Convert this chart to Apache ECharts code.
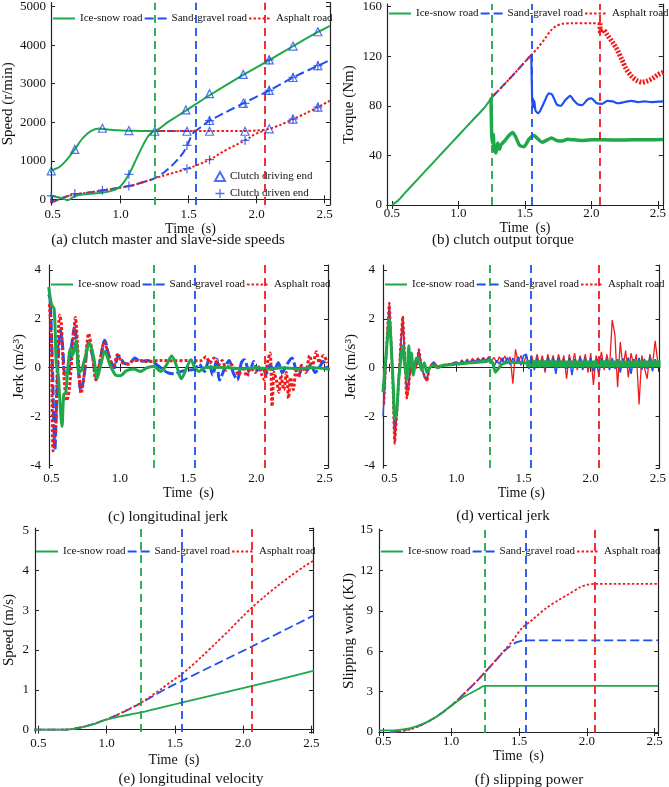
<!DOCTYPE html>
<html>
<head>
<meta charset="utf-8">
<script src="https://cdn.jsdelivr.net/npm/echarts@6/dist/echarts.min.js"></script>
<style>
  html, body { margin: 0; padding: 0; background: #fff; }
  #chart { width: 669px; height: 787px; }
</style>
</head>
<body>
<div id="chart"></div>
<script>
const GREEN = '#1fa84a';
const BLUE = '#1f4ff0';
const RED = '#f01c1c';
const FONT = '"Liberation Serif", "Times New Roman", serif';
const DASH = [9, 4];
const DOT = [2.5, 2];

const roadNames = ['Ice-snow road', 'Sand-gravel road', 'Asphalt road'];
const roadColors = [GREEN, BLUE, RED];
const markerNames = ['Clutch driving end', 'Clutch driven end'];
// moment each road finishes slipping (vertical dashed lines)
const switchTimes = [1.245, 1.55, 2.065];
const captions = [
  '(a) clutch master and slave-side speeds',
  '(b) clutch output torque',
  '(c) longitudinal jerk',
  '(d) vertical jerk',
  '(e) longitudinal velocity',
  '(f) slipping power'
];

// (a) clutch speeds, r/min
const speedIceDrive = [[0.47,700],[0.5,760],[0.55,840],[0.6,1010],[0.663,1295],[0.72,1580],[0.78,1770],[0.84,1840],[0.9,1815],[0.98,1790],[1.061,1780],[1.15,1775],[1.245,1772],[1.35,2010],[1.48,2300],[1.654,2700],[1.902,3230],[2.093,3610],[2.268,3970],[2.451,4340],[2.54,4500]];
const speedSandDrive = [[1.245,1772],[1.4,1772],[1.54,1772],[1.6,1900],[1.654,2040],[1.902,2490],[2.093,2825],[2.268,3160],[2.451,3465],[2.54,3610]];
const speedAsphDrive = [[1.245,1772],[1.6,1772],[1.9,1775],[2.0,1785],[2.093,1830],[2.18,1940],[2.268,2080],[2.36,2230],[2.451,2390],[2.54,2560]];
const speedIceDriven = [[0.47,110],[0.52,70],[0.57,30],[0.61,-20],[0.66,80],[0.72,130],[0.8,150],[0.88,185],[0.95,240],[1.0,340],[1.061,650],[1.1,930],[1.146,1270],[1.195,1600],[1.23,1740],[1.245,1772]];
const speedSandDriven = [[0.47,-60],[0.52,-40],[0.58,50],[0.663,130],[0.75,170],[0.866,230],[0.95,280],[1.061,345],[1.15,430],[1.245,540],[1.3,650],[1.35,790],[1.4,960],[1.45,1160],[1.49,1400],[1.52,1640],[1.545,1772]];
const speedAsphDriven = [[0.47,-60],[0.52,-40],[0.58,50],[0.663,130],[0.75,170],[0.866,230],[0.95,280],[1.061,345],[1.15,430],[1.245,540],[1.35,650],[1.488,795],[1.57,900],[1.654,1030],[1.78,1290],[1.915,1530],[2.0,1710],[2.065,1790]];
const drivingMarks = [[0.49,740],[0.663,1295],[0.866,1844],[1.061,1784],[1.251,1767],[1.48,2320],[1.654,2740],[1.902,3240],[2.093,3615],[2.268,3975],[2.451,4345],[1.488,1767],[1.654,2045],[1.902,2490],[2.093,2825],[2.268,3160],[2.451,3465],[1.654,1767],[1.915,1767],[2.093,1830],[2.268,2080],[2.451,2390]];
const drivenMarks = [[0.49,90],[0.663,150],[0.866,240],[1.061,650],[1.061,345],[1.488,1398],[1.488,795],[1.654,2040],[1.654,1030],[1.915,1530],[1.915,2490],[2.268,2080],[2.268,3160],[2.451,3465],[2.451,2390],[2.093,3615],[2.093,2825]];

// (b) clutch output torque, Nm
const torqueIceRamp = [[0.5,0],[0.55,4],[0.6,10],[0.7,21.5],[0.8,33],[0.9,44.5],[1.0,56],[1.1,67.5],[1.2,79],[1.245,86]];
const torqueIceAfter = [[1.245,86],[1.25,58],[1.255,50],[1.262,57],[1.27,44],[1.283,42],[1.295,50],[1.31,45],[1.32,48.5],[1.35,52],[1.38,56],[1.407,58.5],[1.43,55],[1.46,48],[1.494,47],[1.53,53],[1.568,56],[1.6,53],[1.63,50.5],[1.668,52.5],[1.7,54],[1.74,52],[1.78,51.5],[1.82,53],[1.87,52.5],[1.92,52],[2.0,52.5],[2.1,52.5],[2.2,52.3],[2.3,52.5],[2.4,52.6],[2.54,52.8]];
const torqueSandRamp = [[1.245,86],[1.4,103.5],[1.548,121]];
const torqueSandAfter = [[1.548,121],[1.552,98],[1.556,78],[1.56,86],[1.565,79],[1.57,84],[1.58,76],[1.6,74],[1.62,77],[1.65,84],[1.68,90],[1.705,89],[1.74,81],[1.77,80],[1.8,84],[1.84,88],[1.87,84],[1.9,81],[1.93,80.5],[1.97,85],[2.0,86],[2.04,82],[2.08,81.5],[2.12,84],[2.16,83.5],[2.2,82],[2.25,83],[2.3,84],[2.35,83],[2.4,83.5],[2.45,83],[2.54,83.5]];
const torqueAsphRamp = [[1.245,86],[1.4,103.5],[1.548,121],[1.6,127],[1.65,134],[1.69,140],[1.73,144],[1.78,146],[1.85,146.5],[2.0,146.5],[2.065,146.5]];
const torqueAsphAfter = [[2.065,146.5],[2.07,139],[2.09,141],[2.12,137],[2.16,131],[2.19,126],[2.23,117],[2.26,110],[2.3,104],[2.34,100.5],[2.38,99],[2.42,100],[2.46,102],[2.5,105],[2.54,107]];

// (c) longitudinal jerk, m/s^3
const jerkLongIce = [[0.48,3.3],[0.5,2.6],[0.52,2.4],[0.535,0.2],[0.55,-0.3],[0.562,-1.4],[0.577,-2.4],[0.59,-1.1],[0.605,-1.0],[0.62,0.0],[0.64,0.8],[0.655,0.5],[0.68,1.1],[0.7,-0.2],[0.72,-0.1],[0.75,0.5],[0.78,1.0],[0.81,0.4],[0.835,-0.42],[0.86,0.1],[0.89,0.67],[0.93,0.1],[0.97,-0.3],[1.0,-0.33],[1.05,-0.12],[1.1,-0.05],[1.15,-0.15],[1.2,0.0],[1.25,0.05],[1.3,-0.15],[1.34,0.1],[1.38,0.48],[1.42,0.0],[1.45,-0.45],[1.49,0.0],[1.52,0.33],[1.55,0.0],[1.58,-0.15],[1.62,0.0],[1.7,0.02],[1.8,0.0],[1.9,-0.05],[2.0,0.0],[2.1,-0.05],[2.2,0.0],[2.3,-0.05],[2.4,0.0],[2.54,-0.05]];
const jerkLongSand = [[0.48,3.0],[0.49,2.8],[0.505,0.5],[0.525,-3.35],[0.54,-1.0],[0.555,1.0],[0.565,1.55],[0.58,1.0],[0.6,-0.3],[0.62,-0.3],[0.645,0.8],[0.67,1.7],[0.69,0.5],[0.715,-0.95],[0.74,-0.3],[0.77,1.0],[0.8,0.5],[0.83,-0.45],[0.86,0.4],[0.89,1.12],[0.92,0.5],[0.96,0.0],[0.99,0.5],[1.03,0.2],[1.07,0.15],[1.11,0.4],[1.15,0.25],[1.2,0.3],[1.25,0.2],[1.3,0.0],[1.35,-0.2],[1.4,-0.25],[1.45,-0.15],[1.5,-0.1],[1.55,-0.05],[1.58,0.15],[1.62,-0.15],[1.65,0.3],[1.68,-0.3],[1.71,0.35],[1.73,-0.5],[1.77,0.0],[1.8,0.3],[1.83,-0.2],[1.86,-0.5],[1.89,0.2],[1.91,0.33],[1.95,-0.2],[1.98,0.25],[2.01,-0.1],[2.04,0.05],[2.07,-0.25],[2.1,0.1],[2.13,-0.1],[2.16,0.2],[2.19,-0.2],[2.22,0.1],[2.26,0.4],[2.29,-0.1],[2.31,-0.3],[2.34,0.05],[2.37,-0.1],[2.4,0.15],[2.43,-0.2],[2.46,0.0],[2.49,0.25],[2.52,-0.1]];
const jerkLongAsph = [[0.485,2.6],[0.5,1.0],[0.512,-3.4],[0.53,-2.5],[0.545,0.5],[0.56,2.15],[0.572,1.8],[0.585,0.2],[0.612,-1.35],[0.63,-0.9],[0.655,0.8],[0.676,2.05],[0.69,1.0],[0.717,-1.05],[0.735,-0.5],[0.76,1.0],[0.772,1.4],[0.8,0.5],[0.825,-0.5],[0.86,0.4],[0.886,1.05],[0.92,0.5],[0.955,0.0],[0.982,0.53],[1.02,0.2],[1.06,0.15],[1.1,0.3],[1.15,0.3],[1.2,0.25],[1.3,0.3],[1.4,0.28],[1.5,0.3],[1.55,0.28],[1.6,0.3],[1.63,0.45],[1.66,0.2],[1.69,0.4],[1.72,0.1],[1.75,0.3],[1.78,-0.1],[1.81,0.15],[1.84,0.0],[1.87,-0.3],[1.9,0.05],[1.93,-0.35],[1.96,0.0],[1.99,-0.2],[2.02,0.05],[2.04,-0.3],[2.06,-0.5],[2.08,0.2],[2.1,0.6],[2.115,-1.58],[2.13,-0.2],[2.15,-0.6],[2.165,-1.0],[2.18,-0.3],[2.2,-0.9],[2.22,-0.2],[2.235,-1.25],[2.25,-0.4],[2.27,-0.9],[2.29,-0.1],[2.31,-0.4],[2.33,0.1],[2.36,-0.2],[2.39,0.5],[2.41,0.1],[2.44,0.65],[2.46,0.2],[2.49,0.5],[2.52,0.2]];

// (d) vertical jerk, m/s^3: transient part, then the noisy steady band
const vjIceEarly = [[0.453,-1.0],[0.48,0.8],[0.5,2.0],[0.515,0.8],[0.53,-0.8],[0.54,-2.1],[0.555,-1.8],[0.57,-0.5],[0.585,0.3],[0.6,0.9],[0.615,0.1],[0.63,-0.5],[0.645,0.9],[0.655,0.0],[0.665,0.6],[0.68,-0.3],[0.7,0.4],[0.72,0.3],[0.74,-0.1],[0.76,0.2],[0.78,-0.2],[0.8,0.0],[0.83,0.1],[0.86,0.0],[0.9,0.1],[0.95,0.12],[1.0,0.15],[1.1,0.2],[1.2,0.24],[1.25,0.3],[1.27,0.2],[1.29,-0.18],[1.31,-0.05],[1.34,0.15],[1.4,0.22],[1.5,0.2],[1.53,0.18]];
const vjIceBand = [[1.52,0.17],[1.7,0.16],[1.9,0.15],[2.1,0.16],[2.3,0.15],[2.52,0.16]];
const vjSandEarly = [[0.453,-2.0],[0.485,1.0],[0.5,2.5],[0.515,1.2],[0.53,-1.0],[0.54,-2.7],[0.555,-1.8],[0.57,-0.3],[0.6,2.0],[0.615,0.4],[0.63,-0.9],[0.645,-0.5],[0.66,0.1],[0.68,0.0],[0.7,0.1],[0.72,0.7],[0.74,0.1],[0.76,-0.4],[0.78,-0.4],[0.8,0.0],[0.83,0.25],[0.86,0.0],[0.9,0.1],[0.95,0.15]];
const vjAsphEarly = [[0.46,-1.5],[0.485,1.5],[0.5,2.65],[0.51,1.5],[0.525,-0.5],[0.54,-3.1],[0.555,-2.0],[0.57,-0.5],[0.585,1.0],[0.6,2.1],[0.615,0.5],[0.63,-1.25],[0.645,-0.8],[0.66,0.2],[0.675,-0.3],[0.69,0.3],[0.7,0.0],[0.72,0.75],[0.74,0.0],[0.76,-0.3],[0.78,-0.55],[0.8,0.0],[0.83,0.2],[0.86,0.05],[0.9,0.1],[0.95,0.15]];
// noisy band, one reading every 0.02 s from 1.00 s to 2.50 s
const vjNoiseStart = 1.0;
const vjNoiseStep = 0.02;
const vjSandNoise = [0.20,0.12,0.28,0.15,0.30,0.18,0.32,0.20,0.35,0.22,0.38,0.20,0.42,0.25,0.05,0.30,0.15,0.40,0.18,0.42,0.12,0.40,0.15,0.45,0.10,0.50,0.55,-0.05,0.35,-0.10,0.40,0.00,0.35,-0.05,0.42,0.05,0.38,-0.25,0.40,0.00,0.35,-0.05,0.40,-0.30,0.35,0.00,0.42,-0.10,0.38,0.00,0.40,-0.15,0.35,-0.30,0.40,0.00,0.36,-0.10,0.40,-0.05,0.35,-0.20,0.38,0.00,0.42,-0.25,0.35,0.00,0.40,-0.10,0.36,-0.05,0.40,-0.15,0.35,0.00];
const vjAsphNoise = [0.25,0.15,0.32,0.20,0.35,0.22,0.38,0.25,0.40,0.28,0.42,0.30,0.45,0.28,0.42,0.20,0.45,0.25,0.48,0.20,0.45,-0.65,0.75,0.20,0.50,0.15,0.55,0.10,0.50,0.05,0.55,0.10,0.50,-0.20,0.55,0.10,0.50,0.00,0.55,0.10,0.50,-0.45,0.55,0.05,0.60,-0.10,0.50,0.10,0.55,-0.20,0.60,-0.70,0.50,0.10,0.65,-0.10,0.55,0.00,1.95,1.35,-0.80,1.05,0.00,0.70,-0.40,0.60,0.10,0.55,-1.50,0.50,0.00,-0.45,0.55,0.10,1.10,0.20];

// (e) longitudinal velocity, m/s
const velIce = [[0.47,0],[0.6,0],[0.7,0],[0.75,0.01],[0.8,0.04],[0.85,0.08],[0.9,0.13],[0.95,0.19],[1.0,0.25],[1.1,0.33],[1.25,0.43],[1.55,0.68],[2.06,1.09],[2.52,1.48]];
const velSand = [[0.47,0],[0.7,0],[0.8,0.05],[0.9,0.14],[1.0,0.26],[1.1,0.4],[1.2,0.57],[1.25,0.66],[1.35,0.86],[1.45,1.05],[1.55,1.22],[2.06,2.08],[2.52,2.87]];
const velAsph = [[0.47,0],[0.7,0],[0.8,0.05],[0.9,0.14],[1.0,0.26],[1.1,0.41],[1.2,0.58],[1.25,0.67],[1.3,0.78],[1.4,1.02],[1.5,1.27],[1.55,1.39],[1.6,1.53],[1.7,1.84],[1.8,2.17],[1.9,2.5],[2.0,2.85],[2.06,3.05],[2.15,3.32],[2.25,3.6],[2.35,3.86],[2.45,4.1],[2.52,4.25]];

// (f) slipping work, kJ
const workIce = [[0.47,0.1],[0.5,0.12],[0.6,0.15],[0.7,0.3],[0.8,0.65],[0.9,1.2],[1.0,1.95],[1.1,2.65],[1.2,3.2],[1.245,3.42],[2.524,3.42]];
const workSand = [[0.55,0],[0.6,0.02],[0.7,0.25],[0.8,0.62],[0.9,1.2],[1.0,1.95],[1.1,2.9],[1.2,3.9],[1.25,4.45],[1.3,5.0],[1.395,6.05],[1.44,6.4],[1.48,6.65],[1.54,6.8],[2.524,6.8]];
const workAsph = [[0.58,0],[0.7,0.2],[0.8,0.6],[0.9,1.2],[1.0,1.95],[1.1,2.9],[1.2,3.9],[1.25,4.45],[1.3,5.0],[1.395,6.1],[1.45,6.75],[1.52,7.7],[1.6,8.35],[1.7,9.2],[1.8,9.85],[1.86,10.2],[1.95,10.75],[2.0,10.93],[2.065,11.0],[2.524,11.0]];

function onGrid(vals, t0, dt) {
  return vals.map((v, i) => [Math.round((t0 + i * dt) * 1000) / 1000, v]);
}

// panel layout: plot boxes, axis extents, label offsets
const panels = [
  { grid: { left: 50, top: 1, width: 280, height: 204 }, x: [0.488, 2.54],
    y: { min: -145, max: 5100, splitNumber: 5 }, yName: 'Speed (r/min)', yGap: 35, yMargin: 5,
    xName: 'Time  (s)', xMargin: 3, xGap: 16, legend: [52, 13] },
  { grid: { left: 387, top: 1, width: 278, height: 204 }, x: [0.463, 2.537],
    y: { min: 0, max: 162, interval: 40 }, yMinLabel: true, yName: 'Torque (Nm)', yGap: 30, yMargin: 5,
    xName: 'Time  (s)', xMargin: 2, xGap: 16, legend: [388, 8] },
  { grid: { left: 49, top: 265, width: 279, height: 203 }, x: [0.482, 2.524],
    y: { min: -4.1, max: 4.2, splitNumber: 4 }, yName: 'Jerk (m/s³)', yGap: 22, yMargin: 8,
    xName: 'Time  (s)', xMargin: 4, xGap: 18, legend: [50, 279] },
  { grid: { left: 383, top: 265, width: 277, height: 203 }, x: [0.453, 2.513],
    y: { min: -4.1, max: 4.2, splitNumber: 4 }, yName: 'Jerk (m/s³)', yGap: 24, yMargin: 8,
    xName: 'Time (s)', xMargin: 4, xGap: 18, legend: [384, 279] },
  { grid: { left: 35, top: 528, width: 278, height: 204 }, x: [0.476, 2.512],
    y: { min: -0.06, max: 5.06, splitNumber: 5 }, yName: 'Speed (m/s)', yGap: 18, yMargin: 6,
    xName: 'Time  (s)', xMargin: 5, xGap: 21, legend: [35, 546] },
  { grid: { left: 379, top: 529, width: 279, height: 204 }, x: [0.468, 2.524],
    y: { min: -0.07, max: 15.07, splitNumber: 5 }, yName: 'Slipping work (KJ)', yGap: 22, yMargin: 6,
    xName: 'Time  (s)', xMargin: 2, xGap: 14, legend: [380, 546] }
];
const captionPos = [[168, 240], [503, 240], [168, 517], [503, 516], [191, 779], [529, 780]];

const axisLine = { show: true, lineStyle: { color: '#222', width: 1.2 } };
const axisTick = { show: true, inside: true, length: 4, lineStyle: { color: '#222', width: 1 } };

function xAxis(gi, p, position) {
  const main = position === 'bottom';
  return {
    type: 'value', gridIndex: gi, position, min: p.x[0], max: p.x[1], splitNumber: 4,
    axisLine, axisTick, splitLine: { show: false },
    axisLabel: {
      show: main, margin: p.xMargin, fontFamily: FONT, fontSize: 13, color: '#111',
      showMinLabel: false, showMaxLabel: false, formatter: v => v.toFixed(1)
    },
    name: main ? p.xName : '', nameLocation: 'middle', nameGap: p.xGap,
    nameTextStyle: { fontFamily: FONT, fontSize: 14, color: '#111' }
  };
}

function yAxis(gi, p, position) {
  const main = position === 'left';
  return Object.assign({
    type: 'value', gridIndex: gi, position,
    axisLine, axisTick, splitLine: { show: false },
    axisLabel: {
      show: main, margin: p.yMargin, fontFamily: FONT, fontSize: 13, color: '#111',
      showMinLabel: !!p.yMinLabel, showMaxLabel: false, formatter: v => String(v)
    },
    name: main ? p.yName : '', nameLocation: 'middle', nameGap: p.yGap,
    nameTextStyle: { fontFamily: FONT, fontSize: 15, color: '#111' }
  }, p.y);
}

function curve(name, data, gi, color, type, width, smooth) {
  return {
    type: 'line', name, data, xAxisIndex: gi * 2, yAxisIndex: gi * 2,
    symbol: 'none', smooth: smooth === undefined ? 0.35 : smooth,
    lineStyle: { color, type, width }, itemStyle: { color },
    emphasis: { disabled: true }, animation: false
  };
}

function switchMark() {
  return {
    symbol: 'none', silent: true, animation: false, label: { show: false },
    emphasis: { disabled: true },
    data: switchTimes.map((t, k) => ({ xAxis: t, lineStyle: { color: roadColors[k], type: [8, 5], width: 1.8 } }))
  };
}

const series = [];
function add(gi, list) {
  list[0].markLine = switchMark();
  series.push(...list);
}
const [ICE, SAND, ASPH] = roadNames;

add(0, [
  curve(SAND, speedSandDriven, 0, BLUE, DASH, 2, 0.4),
  curve(SAND, speedSandDrive, 0, BLUE, DASH, 2, 0.3),
  curve(ASPH, speedAsphDriven, 0, RED, DOT, 2, 0.4),
  curve(ASPH, speedAsphDrive, 0, RED, DOT, 2, 0.3),
  curve(ICE, speedIceDriven, 0, GREEN, 'solid', 2, 0.4),
  curve(ICE, speedIceDrive, 0, GREEN, 'solid', 2, 0.3)
]);
series.push({
  type: 'scatter', name: markerNames[0], data: drivingMarks, xAxisIndex: 0, yAxisIndex: 0,
  symbol: 'triangle', symbolSize: 8, z: 5,
  itemStyle: { color: 'rgba(255,255,255,0)', borderColor: BLUE, borderWidth: 1.2 }
}, {
  type: 'scatter', name: markerNames[1], data: drivenMarks, xAxisIndex: 0, yAxisIndex: 0,
  symbol: 'path://M4.3,0H5.7V4.3H10V5.7H5.7V10H4.3V5.7H0V4.3H4.3Z', symbolSize: 9, z: 5,
  itemStyle: { color: BLUE }
});

add(1, [
  curve(SAND, torqueSandRamp, 1, BLUE, DASH, 2, 0),
  curve(SAND, torqueSandAfter, 1, BLUE, 'solid', 2.2, 0.2),
  curve(ASPH, torqueAsphRamp, 1, RED, DOT, 2, 0.3),
  curve(ASPH, torqueAsphAfter, 1, RED, [2, 1.5], 5, 0.3),
  curve(ICE, torqueIceRamp, 1, GREEN, 'solid', 2, 0.3),
  curve(ICE, torqueIceAfter, 1, GREEN, 'solid', 3.5, 0.2)
]);

add(2, [
  curve(SAND, jerkLongSand, 2, BLUE, [10, 3], 3, 0.3),
  curve(ASPH, jerkLongAsph, 2, RED, [3, 2], 3, 0.3),
  curve(ICE, jerkLongIce, 2, GREEN, 'solid', 3, 0.3)
]);

add(3, [
  curve(ASPH, vjAsphEarly.concat(onGrid(vjAsphNoise, vjNoiseStart, vjNoiseStep)), 3, RED, 'solid', 1.3, 0),
  curve(SAND, vjSandEarly.concat(onGrid(vjSandNoise, vjNoiseStart, vjNoiseStep)), 3, BLUE, 'solid', 1.5, 0),
  curve(ASPH, vjAsphEarly, 3, RED, [3, 2], 2.5, 0.2),
  curve(ICE, vjIceEarly, 3, GREEN, 'solid', 3, 0.2),
  curve(ICE, vjIceBand, 3, GREEN, 'solid', 7, 0.2)
]);

add(4, [
  curve(SAND, velSand, 4, BLUE, DASH, 1.8, 0.3),
  curve(ASPH, velAsph, 4, RED, DOT, 1.8, 0.3),
  curve(ICE, velIce, 4, GREEN, 'solid', 1.8, 0.3)
]);

add(5, [
  curve(SAND, workSand, 5, BLUE, DASH, 1.8, 0.3),
  curve(ASPH, workAsph, 5, RED, DOT, 1.8, 0.3),
  curve(ICE, workIce, 5, GREEN, 'solid', 1.8, 0.3)
]);

const legendText = { fontFamily: FONT, fontSize: 11, color: '#111' };
// road legends: line sample only, no symbol in the middle
const legends = panels.map(p => ({
  data: roadNames, left: p.legend[0], top: p.legend[1], padding: 0,
  itemWidth: 22, itemHeight: 10, itemGap: 1, selectedMode: false, textStyle: legendText,
  itemStyle: { color: 'rgba(0,0,0,0)', borderColor: 'rgba(0,0,0,0)', borderWidth: 0 },
  lineStyle: { width: 2 }
}));
legends.push({
  data: markerNames, orient: 'vertical', left: 214, top: 171, padding: 0,
  itemWidth: 10, itemHeight: 9, itemGap: 6, selectedMode: false, textStyle: legendText
});

const option = {
  animation: false,
  backgroundColor: '#fff',
  grid: panels.map(p => p.grid),
  xAxis: panels.flatMap((p, gi) => [xAxis(gi, p, 'bottom'), xAxis(gi, p, 'top')]),
  yAxis: panels.flatMap((p, gi) => [yAxis(gi, p, 'left'), yAxis(gi, p, 'right')]),
  legend: legends,
  series,
  graphic: captions.map((text, i) => ({
    type: 'text', x: captionPos[i][0], y: captionPos[i][1], silent: true,
    style: {
      text, font: '15px ' + FONT, fill: '#111',
      textAlign: 'center', textVerticalAlign: 'middle', align: 'center', verticalAlign: 'middle'
    }
  }))
};

const chart = echarts.init(document.getElementById('chart'), null, { renderer: 'canvas' });
chart.setOption(option);
</script>
</body>
</html>
